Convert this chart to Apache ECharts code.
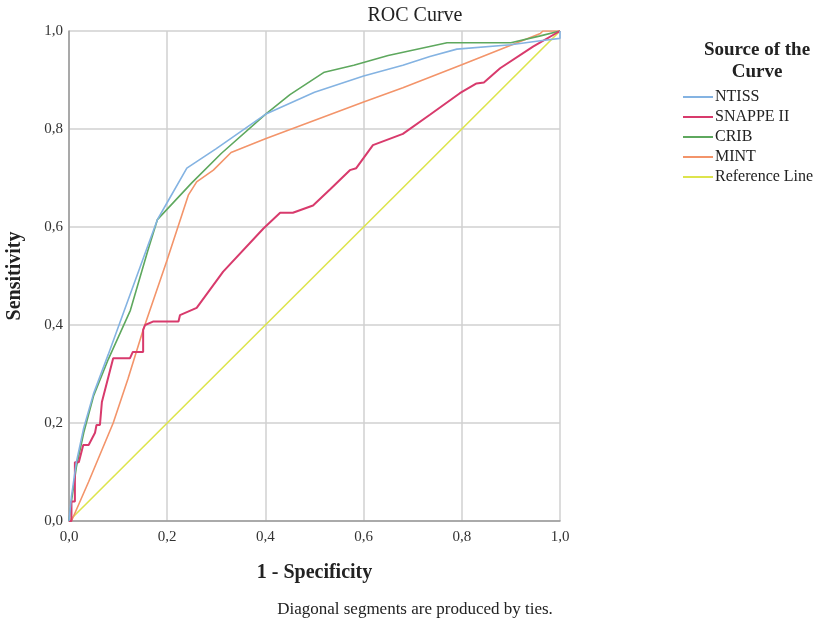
<!DOCTYPE html>
<html><head><meta charset="utf-8">
<script src="https://cdn.jsdelivr.net/npm/echarts@6/dist/echarts.min.js"></script>
<style>html,body{margin:0;padding:0;background:#fff}#c{width:824px;height:622px}</style>
</head><body><div id="c"></div>
<script>
const seriesNames = ['NTISS', 'SNAPPE II', 'CRIB', 'MINT', 'Reference Line'];
const ntiss = [[0,0],[0.005,0.05],[0.015,0.12],[0.03,0.19],[0.05,0.26],[0.08,0.34],[0.12,0.45],[0.16,0.56],[0.18,0.615],[0.2,0.65],[0.24,0.72],[0.3,0.76],[0.4,0.83],[0.5,0.875],[0.6,0.908],[0.68,0.93],[0.735,0.948],[0.79,0.963],[0.9,0.972],[0.96,0.98],[1,0.985],[1,1]];
const snappe = [[0,0],[0.005,0],[0.005,0.04],[0.012,0.04],[0.012,0.12],[0.02,0.12],[0.029,0.155],[0.04,0.155],[0.053,0.18],[0.056,0.196],[0.063,0.196],[0.067,0.243],[0.09,0.332],[0.124,0.332],[0.13,0.345],[0.151,0.345],[0.151,0.39],[0.155,0.4],[0.171,0.407],[0.223,0.407],[0.226,0.42],[0.26,0.435],[0.314,0.509],[0.396,0.597],[0.43,0.629],[0.456,0.629],[0.497,0.644],[0.532,0.677],[0.572,0.716],[0.585,0.72],[0.619,0.767],[0.68,0.79],[0.735,0.829],[0.796,0.873],[0.83,0.893],[0.845,0.895],[0.878,0.924],[0.945,0.968],[1,1]];
const crib = [[0,0],[0.005,0.04],[0.015,0.11],[0.03,0.18],[0.05,0.255],[0.08,0.33],[0.125,0.43],[0.16,0.55],[0.18,0.615],[0.25,0.69],[0.31,0.75],[0.4,0.83],[0.45,0.87],[0.52,0.916],[0.58,0.93],[0.65,0.95],[0.77,0.976],[0.9,0.976],[0.96,0.99],[1,1]];
const mint = [[0,0],[0.005,0],[0.04,0.08],[0.09,0.2],[0.12,0.29],[0.151,0.39],[0.2,0.533],[0.243,0.665],[0.26,0.692],[0.294,0.716],[0.33,0.752],[0.4,0.78],[0.6,0.855],[0.68,0.884],[0.8,0.931],[0.96,0.995],[0.965,1],[1,1]];
const refLine = [[0,0],[1,1]];
const tickValues = [0, 0.2, 0.4, 0.6, 0.8, 1.0];

const colors = ['#84b3e2', '#d83a6c', '#5ea85e', '#f3946a', '#dde44c'];
const serif = '"Liberation Serif", "DejaVu Serif", serif';
const fmt = v => v.toFixed(1).replace('.', ',');

const chart = echarts.init(document.getElementById('c'), null, {renderer: 'canvas'});
const dataSets = [ntiss, snappe, crib, mint, refLine];
chart.setOption({
  animation: false,
  backgroundColor: '#fff',
  title: [
    {text: 'ROC Curve', left: 410, textAlign: 'center', top: 1,
     textStyle: {fontFamily: serif, fontSize: 20, fontWeight: 'normal', color: '#222'}},
    {text: 'Source of the\nCurve', left: 752, textAlign: 'center', top: 34,
     textStyle: {fontFamily: serif, fontSize: 19, fontWeight: 'bold', color: '#222', lineHeight: 22}},
    {text: 'Diagonal segments are produced by ties.', left: 410, textAlign: 'center', top: 596,
     textStyle: {fontFamily: serif, fontSize: 17, fontWeight: 'normal', color: '#222'}}
  ],
  legend: {
    orient: 'vertical', left: 683, top: 89, itemWidth: 30, itemHeight: 2, itemGap: 4,
    icon: 'rect', padding: 0,
    textStyle: {fontFamily: serif, fontSize: 16, lineHeight: 16, color: '#222', padding: [0,0,0,-3]},
    data: seriesNames
  },
  grid: {left: 69, right: 264, top: 31, bottom: 101, outerBoundsMode: 'none', containLabel: false},
  xAxis: {
    type: 'value', min: 0, max: 1, interval: 0.2,
    name: '1 - Specificity', nameLocation: 'middle', nameGap: 42,
    nameTextStyle: {fontFamily: serif, fontSize: 20, fontWeight: 'bold', color: '#222'},
    axisLine: {show: true, lineStyle: {color: '#999', width: 1.5}},
    axisTick: {show: false},
    axisLabel: {formatter: fmt, fontFamily: serif, fontSize: 15, color: '#333', margin: 9},
    splitLine: {show: true, lineStyle: {color: '#d0d0d0', width: 1.5}}
  },
  yAxis: {
    type: 'value', min: 0, max: 1, interval: 0.2,
    name: 'Sensitivity', nameLocation: 'middle', nameGap: 44,
    nameTextStyle: {fontFamily: serif, fontSize: 20, fontWeight: 'bold', color: '#222'},
    axisLine: {show: true, lineStyle: {color: '#999', width: 1.5}},
    axisTick: {show: false},
    axisLabel: {formatter: fmt, fontFamily: serif, fontSize: 15, color: '#333', margin: 6},
    splitLine: {show: true, lineStyle: {color: '#d0d0d0', width: 1.5}}
  },
  series: seriesNames.map((n, i) => ({
    name: n, type: 'line', data: dataSets[i], showSymbol: false, symbol: 'none',
    lineStyle: {color: colors[i], width: i === 1 ? 2 : 1.6},
    itemStyle: {color: colors[i]},
    z: 10 - i
  }))
});
</script></body></html>
